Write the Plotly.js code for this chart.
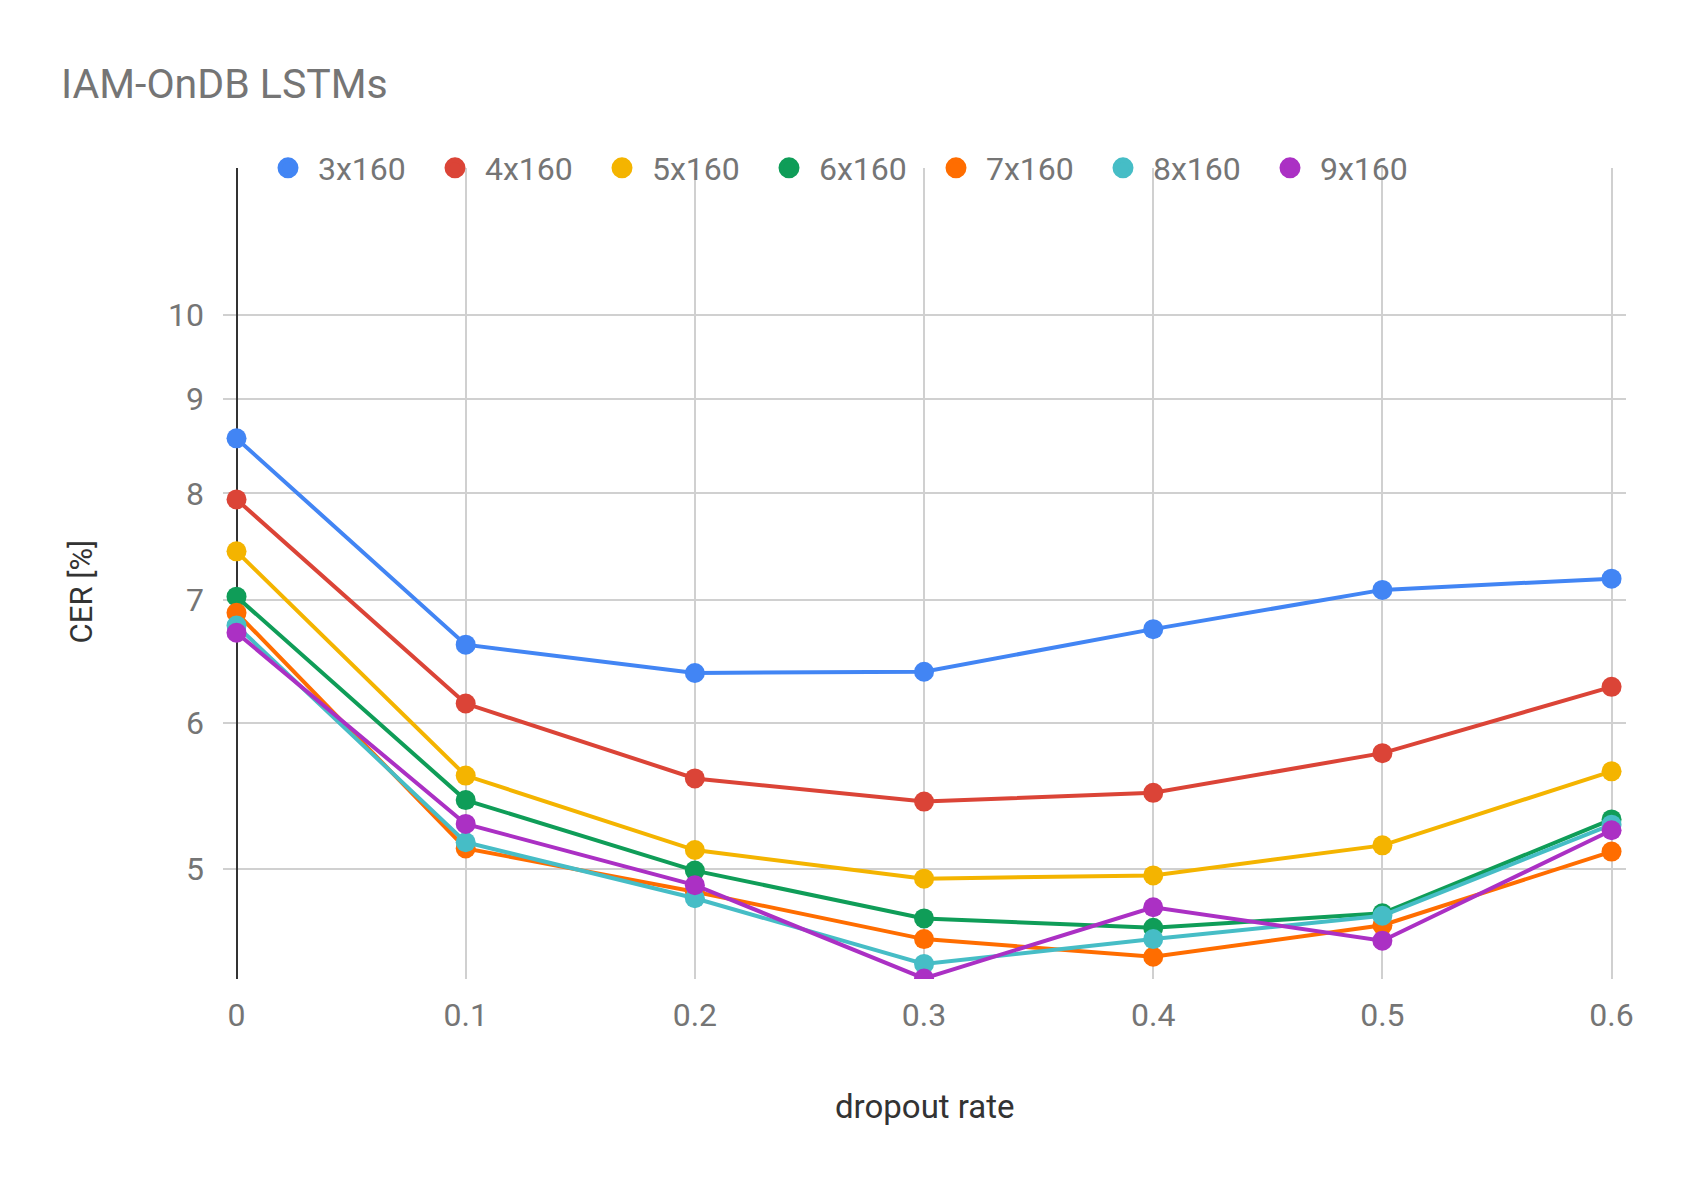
<!DOCTYPE html>
<html>
<head>
<meta charset="utf-8">
<script src="https://cdn.plot.ly/plotly-3.0.1.min.js"></script>
<style>
  html, body { margin: 0; padding: 0; background: #fff; }
  #chart { width: 1686px; height: 1186px; }
</style>
</head>
<body>
<div id="chart"></div>
<script>
// Data
const dropoutRates = [0, 0.1, 0.2, 0.3, 0.4, 0.5, 0.6];
const seriesNames = ["3x160", "4x160", "5x160", "6x160", "7x160", "8x160", "9x160"];
const cer3x160 = [8.57, 6.62, 6.39, 6.40, 6.75, 7.09, 7.19];
const cer4x160 = [7.94, 6.15, 5.60, 5.44, 5.50, 5.78, 6.28];
const cer5x160 = [7.44, 5.62, 5.12, 4.94, 4.96, 5.15, 5.65];
const cer6x160 = [7.03, 5.45, 4.99, 4.70, 4.645, 4.73, 5.32];
const cer7x160 = [6.89, 5.13, 4.86, 4.58, 4.48, 4.66, 5.11];
const cer8x160 = [6.78, 5.17, 4.82, 4.44, 4.58, 4.716, 5.285];
const cer9x160 = [6.72, 5.29, 4.90, 4.36, 4.766, 4.571, 5.248];
const xTickVals = [0, 0.1, 0.2, 0.3, 0.4, 0.5, 0.6];
const xTickText = ["0", "0.1", "0.2", "0.3", "0.4", "0.5", "0.6"];
const yTickVals = [5, 6, 7, 8, 9, 10];
const yTickText = ["5", "6", "7", "8", "9", "10"];

const allSeries = [cer3x160, cer4x160, cer5x160, cer6x160, cer7x160, cer8x160, cer9x160];
const colors = ["#4285F4", "#DB4437", "#F4B400", "#0F9D58", "#FF6D00", "#46BDC6", "#AB30C4"];

const FONT = "Roboto, 'Noto Sans', Arial, sans-serif";
const traces = [];
allSeries.forEach((ys, i) => {
  traces.push({
    type: "scatter",
    mode: "lines+markers",
    x: dropoutRates,
    y: ys,
    name: seriesNames[i],
    showlegend: false,
    line: { color: colors[i], width: 4 },
    marker: { color: colors[i], size: 20 },
    cliponaxis: true,
    hoverinfo: "x+y+name"
  });
});
// legend entries (circle only, like the reference)
allSeries.forEach((ys, i) => {
  traces.push({
    type: "scatter",
    mode: "markers",
    x: [null],
    y: [null],
    name: seriesNames[i],
    showlegend: true,
    marker: { color: colors[i], size: 16, line: { color: colors[i], width: 5 } }
  });
});

const layout = {
  width: 1686,
  height: 1186,
  paper_bgcolor: "#ffffff",
  plot_bgcolor: "#ffffff",
  margin: { l: 223, r: 60, t: 168, b: 207, pad: 0 },
  font: { family: FONT, color: "#757575" },
  title: {
    text: "IAM-OnDB LSTMs",
    font: { family: FONT, size: 41, color: "#757575" },
    xref: "container", x: 61 / 1686, xanchor: "left",
    yref: "container", y: 1 - 84 / 1186, yanchor: "middle"
  },
  showlegend: true,
  legend: {
    orientation: "h",
    x: (258 - 223) / 1403, xanchor: "left",
    y: 1, yanchor: "middle",
    bgcolor: "rgba(0,0,0,0)",
    font: { family: FONT, size: 32, color: "#757575" },
    itemwidth: 50,
    entrywidth: 102,
    entrywidthmode: "pixels",
    traceorder: "normal"
  },
  xaxis: {
    type: "linear",
    range: [-0.0059, 0.6063],
    tickmode: "array",
    tickvals: xTickVals,
    ticktext: xTickText,
    showgrid: true,
    gridcolor: "#d0d0d0",
    gridwidth: 2,
    zeroline: true,
    zerolinecolor: "#333333",
    zerolinewidth: 2,
    showline: false,
    ticks: "",
    ticklabelstandoff: 14,
    tickfont: { family: FONT, size: 32, color: "#757575" },
    fixedrange: true
  },
  yaxis: {
    type: "log",
    range: [Math.log10(4.357), Math.log10(12.02)],
    tickmode: "array",
    tickvals: yTickVals,
    ticktext: yTickText,
    showgrid: true,
    gridcolor: "#d0d0d0",
    gridwidth: 2,
    zeroline: false,
    showline: false,
    ticks: "",
    ticklabelstandoff: 18,
    tickfont: { family: FONT, size: 32, color: "#757575" },
    fixedrange: true
  },
  annotations: [
    {
      text: "dropout rate",
      xref: "paper", yref: "paper",
      x: 0.5, y: (979.3 - 1107) / 811,
      xanchor: "center", yanchor: "middle",
      showarrow: false,
      font: { family: FONT, size: 33, color: "#333333" }
    },
    {
      text: "CER [%]",
      xref: "paper", yref: "paper",
      x: (81.7 - 223) / 1403, y: (979.3 - 592) / 811,
      xanchor: "center", yanchor: "middle",
      textangle: -90,
      showarrow: false,
      font: { family: FONT, size: 31, color: "#333333" }
    }
  ]
};

Plotly.newPlot("chart", traces, layout, { displayModeBar: false, staticPlot: true });
</script>
</body>
</html>
